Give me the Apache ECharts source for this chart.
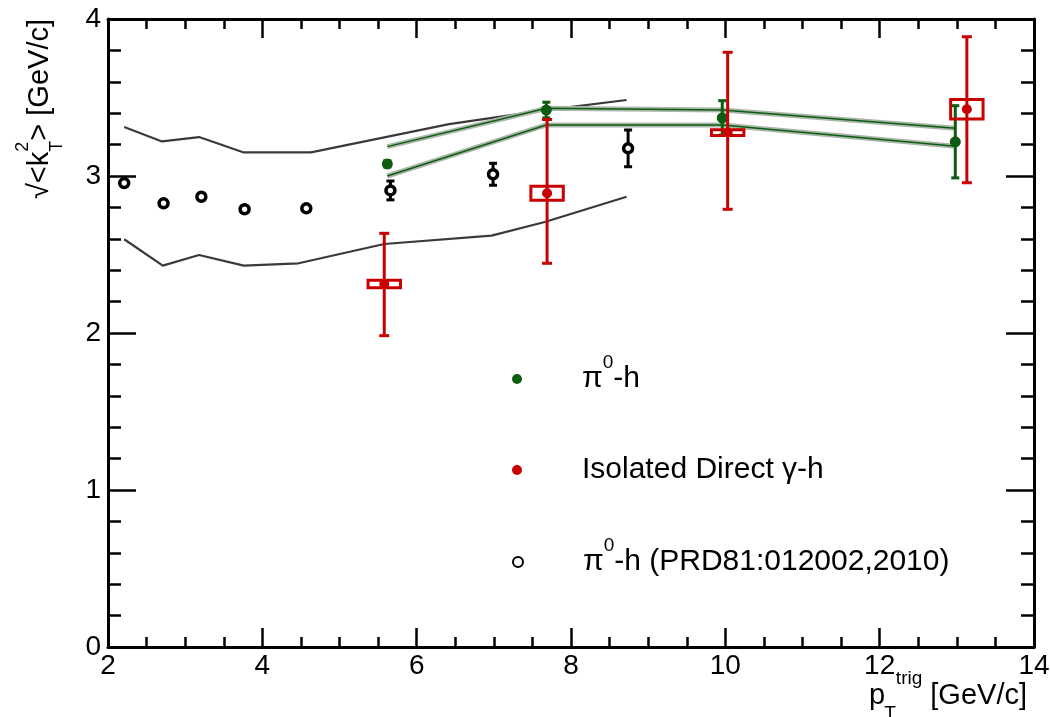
<!DOCTYPE html>
<html>
<head>
    <meta charset="utf-8">
    <script src="https://cdn.jsdelivr.net/npm/echarts@6/dist/echarts.min.js"></script>
</head>
<body style="margin:0;background:#fff">
    <div id="main" style="width: 1050px;height:717px;"></div>
    <script type="text/javascript">

    // pi0-h (PRD81:012002,2010), open black circles
    var prdX = [2.21, 2.72, 3.21, 3.77, 4.57, 5.66, 6.99, 8.74];
    var prdY = [2.955, 2.826, 2.868, 2.788, 2.794, 2.908, 3.011, 3.176];
    var prdErr = [0.015, 0.015, 0.015, 0.015, 0.015, 0.06, 0.07, 0.117];

    // grey band around the old measurement
    var greyUpX = [2.21, 2.70, 3.18, 3.76, 4.63, 6.42, 7.67, 8.72];
    var greyUpY = [3.312, 3.22, 3.248, 3.15, 3.15, 3.33, 3.42, 3.484];
    var greyLoX = [2.21, 2.71, 3.18, 3.76, 4.47, 5.58, 6.97, 7.66, 8.72];
    var greyLoY = [2.597, 2.429, 2.497, 2.429, 2.444, 2.567, 2.62, 2.707, 2.868];

    // pi0-h, green
    var piX = [5.62, 7.68, 9.96, 12.98];
    var piY = [3.077, 3.42, 3.37, 3.218];
    var piErr = [0.02, 0.05, 0.11, 0.23];
    var piBandUp = [3.187, 3.431, 3.42, 3.304];
    var piBandLo = [3.0, 3.325, 3.325, 3.19];

    // isolated direct gamma-h, red
    var gamX = [5.58, 7.69, 10.03, 13.13];
    var gamY = [2.312, 2.89, 3.276, 3.425];
    var gamLo = [1.983, 2.444, 2.788, 2.957];
    var gamHi = [2.635, 3.36, 3.788, 3.887];
    var gamSysX = [0.21, 0.21, 0.21, 0.21];
    var gamSysY = [0.024, 0.045, 0.018, 0.062];

    var legendNames = ['π0-h', 'Isolated Direct γ-h', 'π0-h (PRD81:012002,2010)'];

    var GREEN = '#0d5c12';
    var RED = '#c80000';
    var FONT = 'Liberation Sans';

    function pairs(xs, ys) {
        return xs.map(function (x, i) { return [x, ys[i]]; });
    }

    function errorBars(color, cap) {
        return function (params, api) {
            var x = api.value(0);
            var bot = api.coord([x, api.value(1)]);
            var top = api.coord([x, api.value(2)]);
            var st = {stroke: color, lineWidth: 3};
            return {
                type: 'group',
                children: [
                    {type: 'line', shape: {x1: top[0], y1: top[1], x2: bot[0], y2: bot[1]}, style: st},
                    {type: 'line', shape: {x1: top[0] - cap, y1: top[1], x2: top[0] + cap, y2: top[1]}, style: st},
                    {type: 'line', shape: {x1: bot[0] - cap, y1: bot[1], x2: bot[0] + cap, y2: bot[1]}, style: st}
                ]
            };
        };
    }

    function sysBox(params, api) {
        var x = api.value(0), dx = api.value(3);
        var p1 = api.coord([x - dx, api.value(2)]);
        var p2 = api.coord([x + dx, api.value(1)]);
        return {
            type: 'rect',
            shape: {x: p1[0], y: p1[1], width: p2[0] - p1[0], height: p2[1] - p1[1]},
            style: {fill: 'none', stroke: RED, lineWidth: 3}
        };
    }

    var labelFont = {fontFamily: FONT, fontSize: 28, color: '#000'};

    function xAx(pos, labels) {
        return {
            type: 'value', position: pos, min: 2, max: 14, interval: 2,
            axisLine: {onZero: false, lineStyle: {color: '#000', width: 3}},
            axisTick: {inside: true, length: 19, lineStyle: {color: '#000', width: 2.5}},
            minorTick: {show: true, splitNumber: 4, length: 10, lineStyle: {color: '#000', width: 2.5}},
            splitLine: {show: false},
            axisLabel: Object.assign({show: labels, margin: 5}, labelFont)
        };
    }
    function yAx(pos, labels) {
        return {
            type: 'value', position: pos, min: 0, max: 4, interval: 1,
            axisLine: {onZero: false, lineStyle: {color: '#000', width: 3}},
            axisTick: {inside: true, length: 28, lineStyle: {color: '#000', width: 2.5}},
            minorTick: {show: true, splitNumber: 5, length: 13, lineStyle: {color: '#000', width: 2.5}},
            splitLine: {show: false},
            axisLabel: Object.assign({show: labels, margin: 7}, labelFont)
        };
    }

    var xBottom = xAx('bottom', true);
    xBottom.name = '{t|p}{sub|T}{sup|trig}{t| [GeV/c]}';
    xBottom.nameLocation = 'end';
    xBottom.nameGap = -7;
    xBottom.nameMoveOverlap = false;
    xBottom.nameTextStyle = {
        align: 'right', verticalAlign: 'top', padding: [34, 0, 0, 0],
        rich: {
            t: {fontFamily: FONT, fontSize: 29, color: '#000', lineHeight: 30},
            sub: {fontFamily: FONT, fontSize: 19, color: '#000', lineHeight: 30, verticalAlign: 'bottom', padding: [0, 0, -12, -1]},
            sup: {fontFamily: FONT, fontSize: 19, color: '#000', lineHeight: 30, verticalAlign: 'top', padding: [-12, 0, 0, 0]}
        }
    };

    var yLeft = yAx('left', true);
    yLeft.name = '{t|√<k}{sup|2}{sub|T}{t|> [GeV/c]}';
    yLeft.nameLocation = 'end';
    yLeft.nameGap = 0;
    yLeft.nameRotate = 90;
    yLeft.nameMoveOverlap = false;
    yLeft.nameTextStyle = {
        align: 'right', verticalAlign: 'bottom', padding: [0, 0, 52, 0],
        rich: {
            t: {fontFamily: FONT, fontSize: 29, color: '#000', lineHeight: 32},
            sub: {fontFamily: FONT, fontSize: 18, color: '#000', lineHeight: 32, verticalAlign: 'bottom', padding: [0, 0, -10, -10]},
            sup: {fontFamily: FONT, fontSize: 18, color: '#000', lineHeight: 32, verticalAlign: 'top', padding: [-10, 0, 0, 0]}
        }
    };

    // one legend per row so the rows sit at the reference positions
    // (rows with a superscript come out taller, hence the uneven tops)
    var legendTops = [348, 449, 531];
    var legends = legendNames.map(function (name, i) {
        return {
            orient: 'vertical',
            left: 507,
            top: legendTops[i],
            itemWidth: 120,
            itemHeight: 10,
            data: [name],
            formatter: function (n) {
                return '{t|' + n.replace('π0', 'π}{sup|0}{t|') + '}';
            },
            textStyle: {
                fontFamily: FONT, fontSize: 30, color: '#000', lineHeight: 32,
                rich: {
                    t: {fontFamily: FONT, fontSize: 30, color: '#000', lineHeight: 32},
                    sup: {fontFamily: FONT, fontSize: 19, color: '#000', lineHeight: 32, verticalAlign: 'top', padding: [-10, 0, 0, 0]}
                }
            }
        };
    });

    var myChart = echarts.init(document.getElementById('main'));

    myChart.setOption({
        animation: false,
        backgroundColor: '#fff',
        grid: {left: 108, right: 16, top: 19, bottom: 70, outerBoundsMode: 'none', containLabel: false},
        xAxis: [xBottom, xAx('top', false)],
        yAxis: [yLeft, yAx('right', false)],
        legend: legends,
        series: [
            {
                type: 'line', name: 'grey-up', data: pairs(greyUpX, greyUpY),
                symbol: 'none', z: 2, silent: true,
                lineStyle: {color: '#3a3a3a', width: 2.2}
            },
            {
                type: 'line', name: 'grey-lo', data: pairs(greyLoX, greyLoY),
                symbol: 'none', z: 2, silent: true,
                lineStyle: {color: '#3a3a3a', width: 2.2}
            },
            {
                type: 'line', name: 'pi-band-up-bg', data: pairs(piX, piBandUp),
                symbol: 'none', z: 3, silent: true,
                lineStyle: {color: '#aab6aa', width: 5}
            },
            {
                type: 'line', name: 'pi-band-lo-bg', data: pairs(piX, piBandLo),
                symbol: 'none', z: 3, silent: true,
                lineStyle: {color: '#aab6aa', width: 5}
            },
            {
                type: 'line', name: 'pi-band-up', data: pairs(piX, piBandUp),
                symbol: 'none', z: 3, silent: true,
                lineStyle: {color: GREEN, width: 1.5}
            },
            {
                type: 'line', name: 'pi-band-lo', data: pairs(piX, piBandLo),
                symbol: 'none', z: 3, silent: true,
                lineStyle: {color: GREEN, width: 1.5}
            },
            {
                type: 'custom', name: 'prd-err', z: 4,
                renderItem: errorBars('#000', 4),
                encode: {x: 0, y: [1, 2]},
                data: prdX.map(function (x, i) { return [x, prdY[i] - prdErr[i], prdY[i] + prdErr[i]]; })
            },
            {
                type: 'scatter', name: legendNames[2], z: 4,
                data: pairs(prdX, prdY),
                symbol: 'circle', symbolSize: 9,
                itemStyle: {color: '#fff', borderColor: '#000', borderWidth: 3.5, opacity: 1}
            },
            {
                type: 'custom', name: 'pi-err', z: 5,
                renderItem: errorBars(GREEN, 4),
                encode: {x: 0, y: [1, 2]},
                data: piX.map(function (x, i) { return [x, piY[i] - piErr[i], piY[i] + piErr[i]]; })
            },
            {
                type: 'scatter', name: legendNames[0], z: 5,
                data: pairs(piX, piY),
                symbol: 'circle', symbolSize: 11,
                itemStyle: {color: GREEN, opacity: 1}
            },
            {
                type: 'custom', name: 'gam-sys', z: 6,
                renderItem: sysBox,
                encode: {x: 0, y: [1, 2]},
                data: gamX.map(function (x, i) { return [x, gamY[i] - gamSysY[i], gamY[i] + gamSysY[i], gamSysX[i]]; })
            },
            {
                type: 'custom', name: 'gam-err', z: 6,
                renderItem: errorBars(RED, 5),
                encode: {x: 0, y: [1, 2]},
                data: gamX.map(function (x, i) { return [x, gamLo[i], gamHi[i]]; })
            },
            {
                type: 'scatter', name: legendNames[1], z: 6,
                data: pairs(gamX, gamY),
                symbol: 'circle', symbolSize: 10,
                itemStyle: {color: RED, opacity: 1}
            }
        ]
    });
    </script>
</body>
</html>
